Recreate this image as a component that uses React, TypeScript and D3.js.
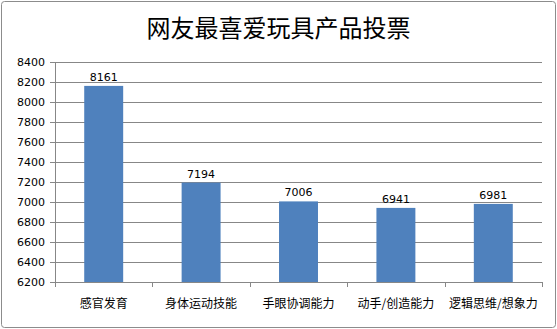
import React from "react";
import * as d3 from "d3";

const categories = ["感官发育", "身体运动技能", "手眼协调能力", "动手/创造能力", "逻辑思维/想象力"];
const votes = [8161, 7194, 7006, 6941, 6981];
const yTicks = [6200, 6400, 6600, 6800, 7000, 7200, 7400, 7600, 7800, 8000, 8200, 8400];
const title = "网友最喜爱玩具产品投票";

export default function App() {
  const W = 557, H = 329;
  const left = 55, right = 542, top = 62, bottom = 282;
  const x = d3.scaleBand<string>().domain(categories).range([left, right]).paddingInner(0).paddingOuter(0);
  const y = d3.scaleLinear().domain([6200, 8400]).range([bottom, top]);
  const bw = x.bandwidth() * 0.4;
  const numFont = "'DejaVu Sans', Verdana, sans-serif";
  const cjk = "'Noto Sans CJK SC', sans-serif";
  return (
    <svg width={W} height={H} style={{ position: "absolute", left: 0, top: 0, display: "block" }}>
      <rect x={0} y={0} width={W} height={H} fill="#fff" />
      <rect x={1.5} y={1.5} width={W - 3} height={H - 3} rx={3} fill="#fff" stroke="#8c8c8c" strokeWidth={1} />
      <text x={W / 2} y={37} textAnchor="middle" fontFamily={cjk} fontSize={24} fill="#000">{title}</text>
      {yTicks.map((t) => (
        <g key={t}>
          <line x1={left - 5} x2={t === 6200 ? left : right} y1={Math.round(y(t)) + 0.5} y2={Math.round(y(t)) + 0.5} stroke="#878787" strokeWidth={1} />
          <text x={left - 10} y={y(t) + 4} textAnchor="end" fontFamily={numFont} fontSize={11} fill="#000">{t}</text>
        </g>
      ))}
      <line x1={left + 0.5} x2={left + 0.5} y1={top} y2={bottom} stroke="#878787" />
      {categories.map((c, i) => {
        const cx = (x(c) as number) + x.bandwidth() / 2;
        return (
          <g key={c}>
            <rect x={cx - bw / 2} y={y(votes[i])} width={bw} height={bottom - y(votes[i])} fill="#4F81BD" />
            <text x={cx} y={y(votes[i]) - 5} textAnchor="middle" fontFamily={numFont} fontSize={11} fill="#000">{votes[i]}</text>
            <text x={cx} y={308} textAnchor="middle" fontFamily={cjk} fontSize={12} fill="#000">{c}</text>
          </g>
        );
      })}
      <line x1={left} x2={right} y1={bottom + 0.5} y2={bottom + 0.5} stroke="#878787" />
      {d3.range(categories.length + 1).map((i) => {
        const xx = Math.round(left + i * x.bandwidth()) + 0.5;
        return <line key={i} x1={xx} x2={xx} y1={bottom} y2={bottom + 5} stroke="#878787" />;
      })}
    </svg>
  );
}
